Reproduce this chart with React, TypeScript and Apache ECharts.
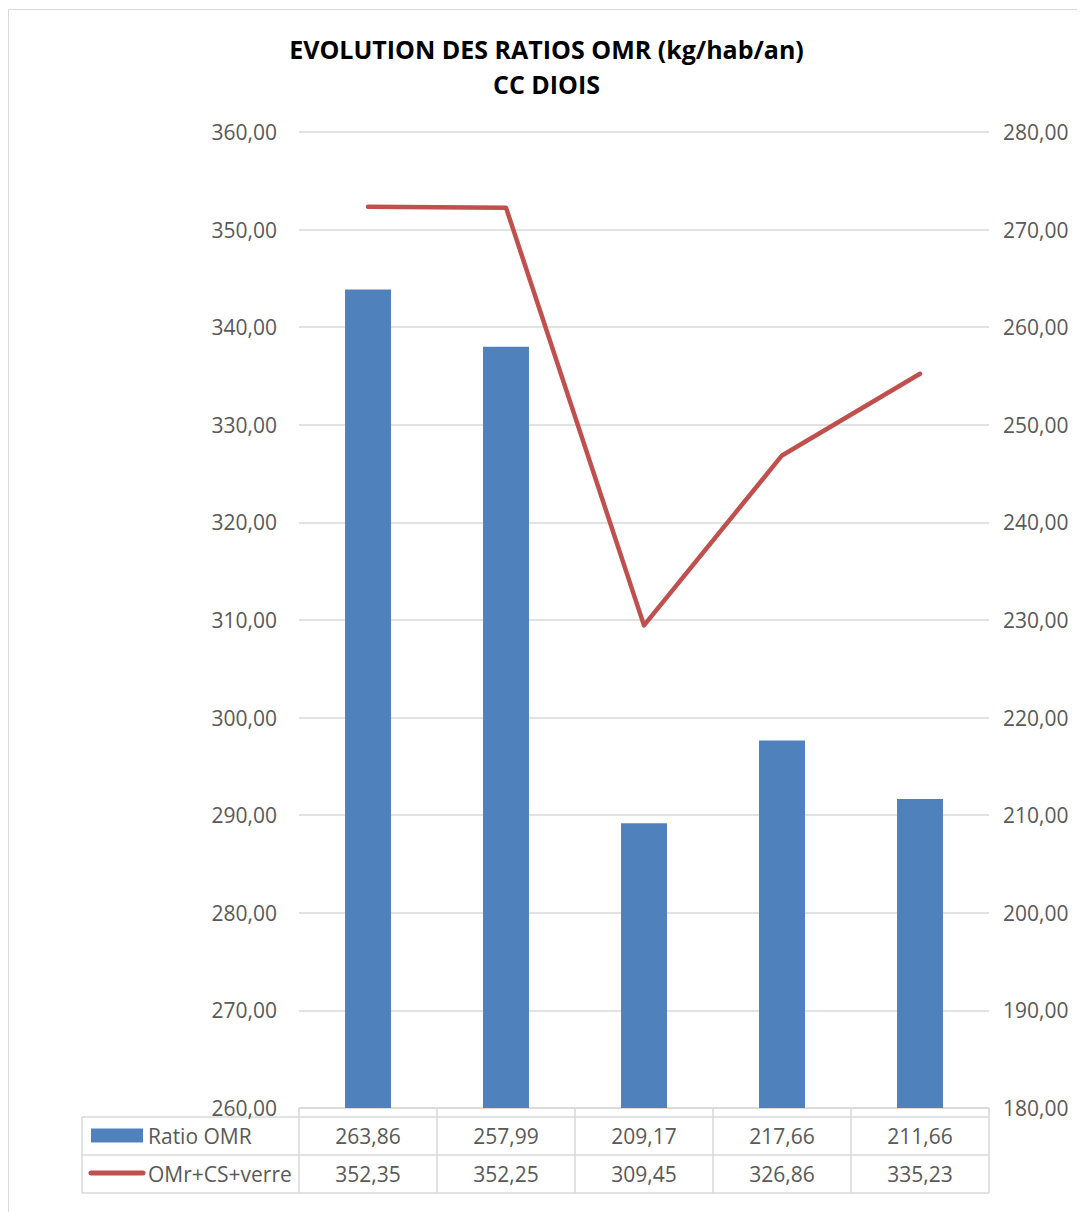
import React, { useEffect, useRef } from "react";
import * as echarts from "echarts";

const categories = ["1", "2", "3", "4", "5"];
const ratioOMR = [263.86, 257.99, 209.17, 217.66, 211.66];
const omrCsVerre = [352.35, 352.25, 309.45, 326.86, 335.23];
const seriesNames = ["Ratio OMR", "OMr+CS+verre"];
const leftAxis = { min: 260, max: 360, interval: 10 };
const rightAxis = { min: 180, max: 280, interval: 10 };
const titleLines = ["EVOLUTION DES RATIOS OMR (kg/hab/an)", "CC DIOIS"];

const BLUE = "#4F81BD";
const RED = "#C0504D";
const GRIDC = "#d9d9d9";
const TXT = "#595959";
const FONT = '"Open Sans", sans-serif';

const GRID_LEFT = 291;
const GRID_TOP = 124;
const GRID_W = 690;
const GRID_H = 976;
const TABLE_LEFT = 74;
const TABLE_TOP = 1109;
const ROW_H = 38;

const fmt = (v: number) => v.toFixed(2).replace(".", ",");

export default function App() {
  const ref = useRef<HTMLDivElement>(null);
  useEffect(() => {
    if (!ref.current) return;
    const chart = echarts.init(ref.current, null, { renderer: "svg" });
    const colW = GRID_W / categories.length;
    const gridRight = GRID_LEFT + GRID_W;
    const tableBottom = TABLE_TOP + ROW_H * 2;
    const lineStyle = { stroke: GRIDC, lineWidth: 1.5 };
    const graphics: any[] = [
      {
        type: "rect",
        shape: { x: 0.5, y: 1.5, width: 1073, height: 1400 },
        style: { fill: "none", stroke: GRIDC, lineWidth: 1 },
        silent: true,
      },
    ];
    [TABLE_TOP, TABLE_TOP + ROW_H, tableBottom].forEach((y) =>
      graphics.push({ type: "line", shape: { x1: TABLE_LEFT, y1: y, x2: gridRight, y2: y }, style: lineStyle })
    );
    const xs = [TABLE_LEFT];
    for (let i = 0; i <= categories.length; i++) xs.push(GRID_LEFT + i * colW);
    xs.forEach((x) =>
      graphics.push({ type: "line", shape: { x1: x, y1: TABLE_TOP, x2: x, y2: tableBottom }, style: lineStyle })
    );
    const rows = [ratioOMR, omrCsVerre];
    rows.forEach((vals, r) => {
      const cy = TABLE_TOP + ROW_H * r + ROW_H / 2;
      vals.forEach((v, j) => {
        graphics.push({
          type: "text",
          x: GRID_LEFT + (j + 0.5) * colW,
          y: cy,
          style: {
            text: fmt(v),
            fill: TXT,
            font: `21px ${FONT}`,
            textAlign: "center",
            textVerticalAlign: "middle",
          },
        });
      });
      graphics.push({
        type: "text",
        x: TABLE_LEFT + 66,
        y: cy,
        style: {
          text: seriesNames[r],
          fill: TXT,
          font: `21px ${FONT}`,
          textAlign: "left",
          textVerticalAlign: "middle",
        },
      });
    });
    graphics.push({
      type: "rect",
      shape: { x: TABLE_LEFT + 9, y: TABLE_TOP + ROW_H / 2 - 7.5, width: 52, height: 14 },
      style: { fill: BLUE },
    });
    graphics.push({
      type: "line",
      shape: { x1: TABLE_LEFT + 9, y1: TABLE_TOP + ROW_H * 1.5 - 1, x2: TABLE_LEFT + 61, y2: TABLE_TOP + ROW_H * 1.5 - 1 },
      style: { stroke: RED, lineWidth: 5, lineCap: "round" },
    });

    const axisLabel = {
      color: TXT,
      fontSize: 21,
      fontFamily: FONT,
      formatter: (v: number) => fmt(v),
    };
    chart.setOption({
      animation: false,
      title: {
        text: titleLines.join("\n"),
        left: "center",
        top: 18,
        textStyle: { fontFamily: FONT, fontWeight: "bold", fontSize: 25, color: "#000", lineHeight: 35 },
      },
      grid: { left: GRID_LEFT, top: GRID_TOP, width: GRID_W, height: GRID_H, containLabel: false },
      xAxis: {
        type: "category",
        data: categories,
        axisLine: { show: true, lineStyle: { color: GRIDC, width: 1.5 } },
        axisTick: { show: true, length: 9, lineStyle: { color: GRIDC, width: 1.5 } },
        axisLabel: { show: false },
      },
      yAxis: [
        {
          type: "value",
          position: "left",
          ...leftAxis,
          axisLine: { show: false },
          axisTick: { show: false },
          axisLabel: { ...axisLabel, margin: 22 },
          splitLine: { lineStyle: { color: GRIDC, width: 1.5 } },
        },
        {
          type: "value",
          position: "right",
          ...rightAxis,
          axisLine: { show: false },
          axisTick: { show: false },
          axisLabel: { ...axisLabel, margin: 14 },
          splitLine: { show: false },
        },
      ],
      series: [
        {
          name: seriesNames[0],
          type: "bar",
          yAxisIndex: 1,
          data: ratioOMR,
          barWidth: "33.3%",
          itemStyle: { color: BLUE },
        },
        {
          name: seriesNames[1],
          type: "line",
          yAxisIndex: 0,
          data: omrCsVerre,
          showSymbol: false,
          symbol: "none",
          lineStyle: { color: RED, width: 4.5, cap: "round", join: "round" },
        },
      ],
      graphic: graphics,
    });
    return () => chart.dispose();
  }, []);
  return <div ref={ref} style={{ width: 1077, height: 1204 }} />;
}
